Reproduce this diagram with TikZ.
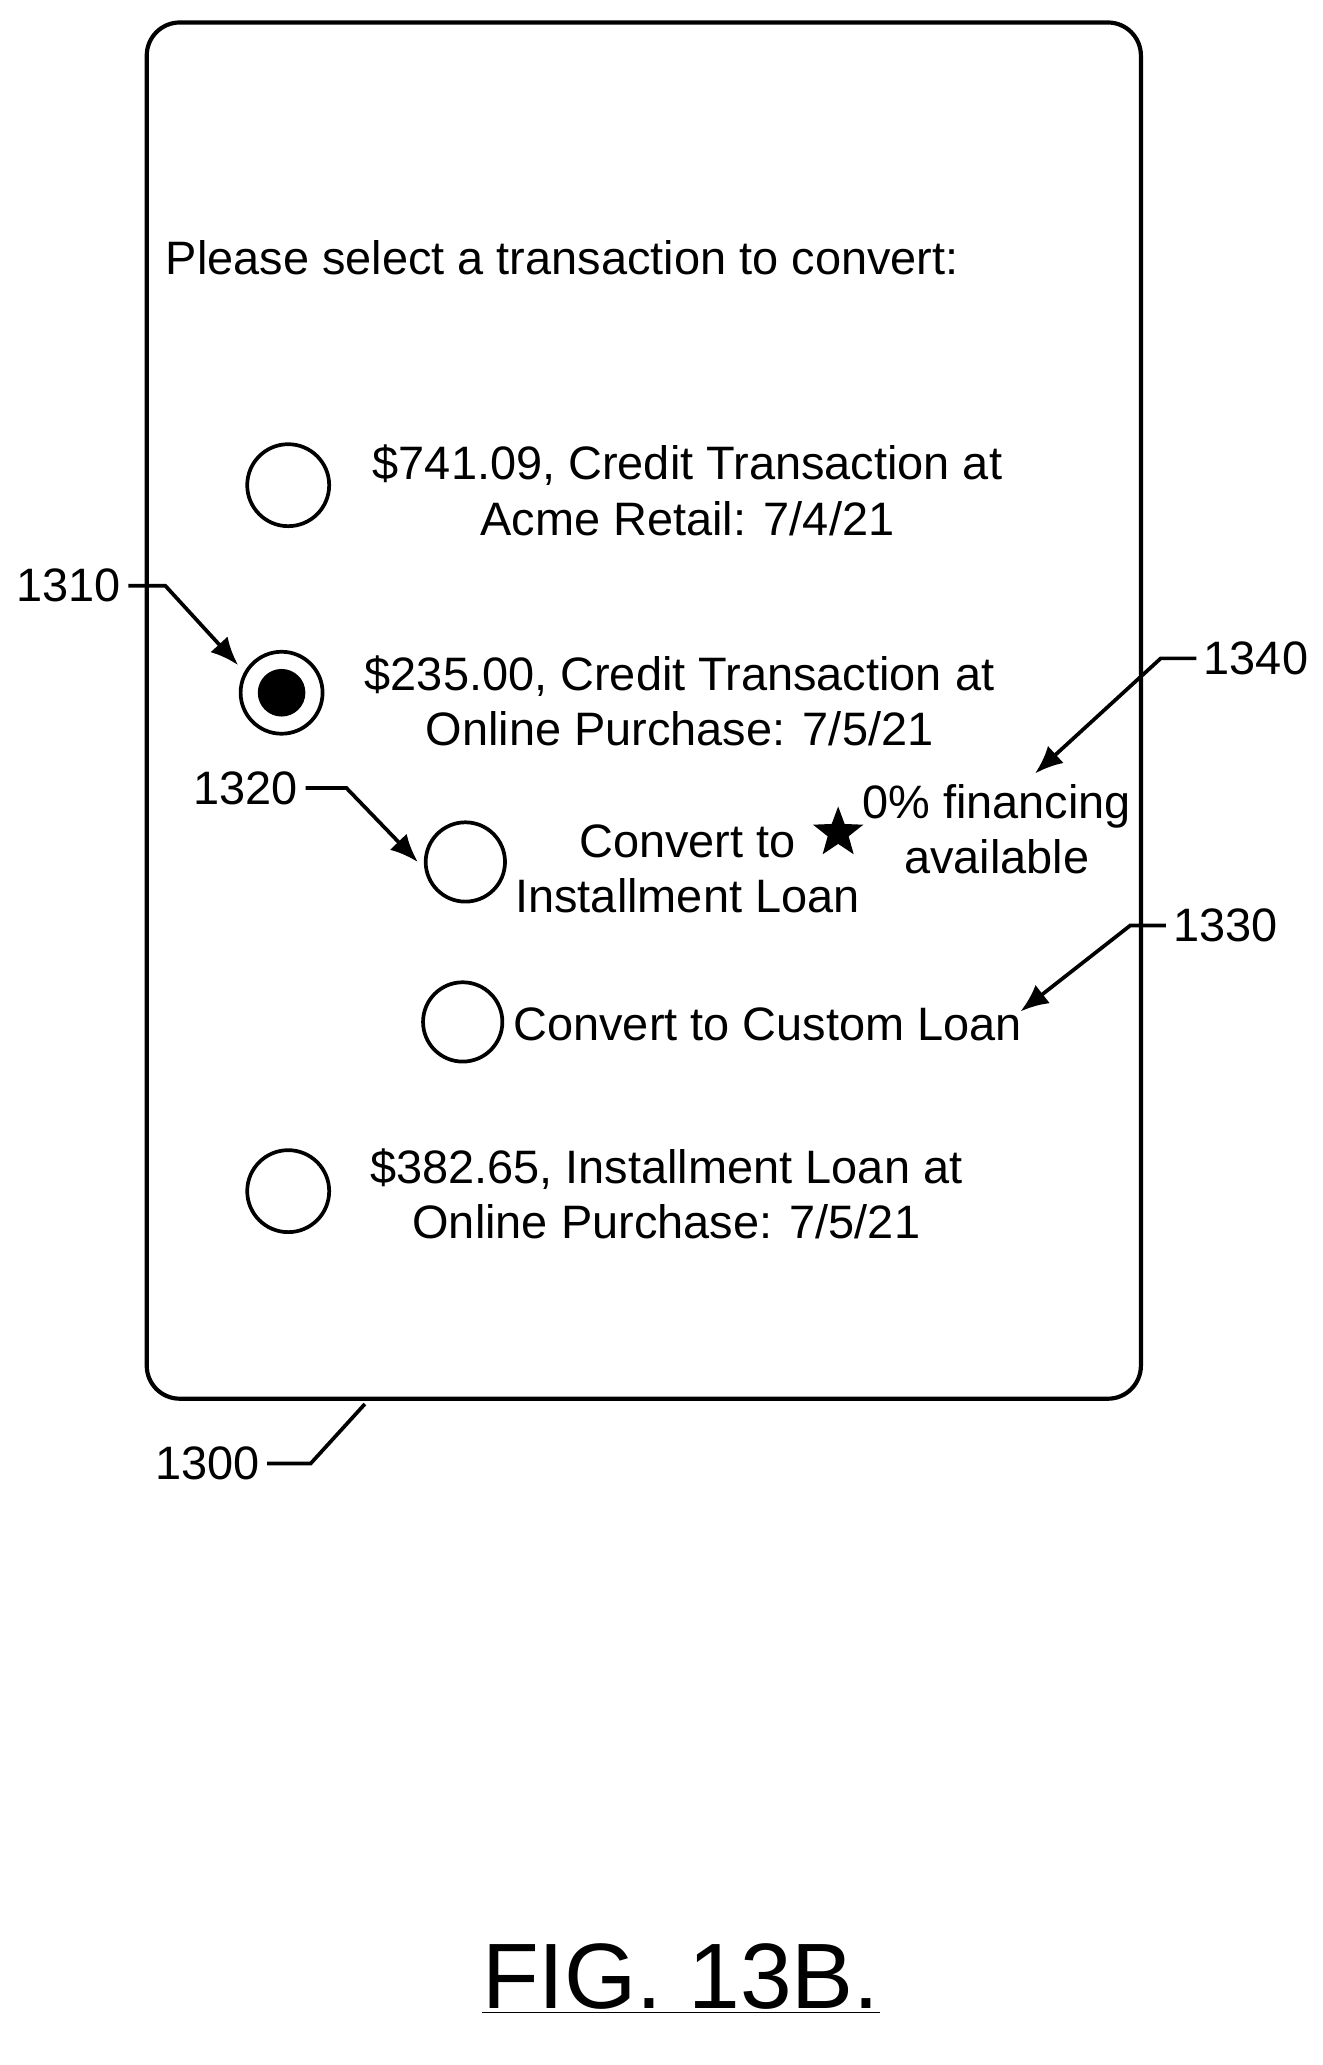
\documentclass[tikz,border=0pt]{standalone}
\usepackage{fontspec}
\setmainfont{Liberation Sans}
\usetikzlibrary{arrows.meta,shapes.geometric}
\begin{document}
\begin{tikzpicture}[x=0.02cm,y=-0.02cm,
  txt/.style={font=\fontsize{20.2}{23.8}\selectfont,inner sep=0pt,align=center},
  radio/.style={circle,draw,line width=1.6pt,minimum size=62*0.02cm,inner sep=0pt},
  lbl/.style={font=\fontsize{20.2}{24}\selectfont,inner sep=3pt},
  lead/.style={line width=1.6pt},
  arr/.style={line width=1.6pt,-{Latex[length=12pt,width=10pt]}}]
\useasboundingbox (0,0) rectangle (1000,1562);
\draw[line width=1.8pt,rounded corners=0.5cm] (111,17) rectangle (863,1058);
\node[txt,anchor=west] (title) at (125,195) {Please select a transaction to convert:};
\node[radio] (r1) at (218,367) {};
\node[txt] (t1) at (520,371) {\$741.09, Credit Transaction at\\Acme Retail: 7/4/21};
\node[radio] (r2) at (213,524) {};
\node[circle,fill,minimum size=36*0.02cm,inner sep=0pt] (r2i) at (213,524) {};
\node[txt] (t2) at (514,530) {\$235.00, Credit Transaction at\\Online Purchase: 7/5/21};
\node[radio,minimum size=60*0.02cm] (r3) at (352,652) {};
\node[txt] (t3) at (520,657) {Convert to\\Installment Loan};
\node[star,star points=5,star point ratio=2.4,fill,minimum size=40*0.02cm,inner sep=0pt] (star) at (634,630) {};
\node[txt] (t4) at (754,627) {0\% financing\\available};
\node[radio,minimum size=60*0.02cm] (r4) at (350,773) {};
\node[txt,anchor=west] (t5) at (388,775) {Convert to Custom Loan};
\node[radio] (r5) at (218,901) {};
\node[txt] (t6) at (504,903) {\$382.65, Installment Loan at\\Online Purchase: 7/5/21};
\node[lbl] (l1310) at (52,443) {1310};
\node[lbl] (l1320) at (186,596) {1320};
\node[lbl] (l1340) at (950,498) {1340};
\node[lbl] (l1330) at (927,700) {1330};
\node[lbl] (l1300) at (157,1107) {1300};
\coordinate (a1) at (180,503);
\coordinate (a2) at (316,652);
\coordinate (a3) at (783,585);
\coordinate (a4) at (772,765);
\coordinate (a5) at (276,1062);
\draw[arr] (l1310.east) -- (125,443) -- (a1);
\draw[arr] (l1320.east) -- (262,596) -- (a2);
\draw[arr] (l1340.west) -- (878,498) -- (a3);
\draw[arr] (l1330.west) -- (855,700) -- (a4);
\draw[lead] (l1300.east) -- (235,1107) -- (a5);
\node[font=\fontsize{40}{48}\selectfont,inner sep=0pt] (fig) at (515,1497) {\underline{FIG. 13B.}};
\end{tikzpicture}
\end{document}
